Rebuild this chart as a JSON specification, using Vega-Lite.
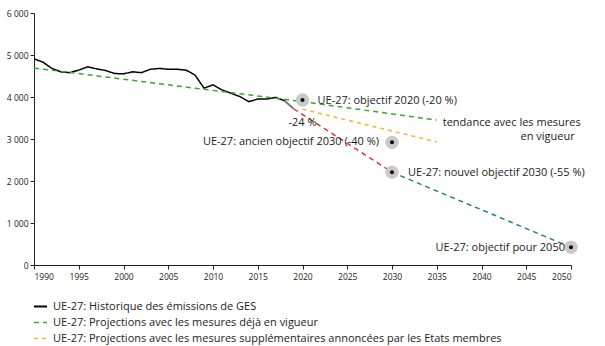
{
  "$schema": "https://vega.github.io/schema/vega-lite/v6.json",
  "width": 537,
  "height": 252,
  "autosize": "none",
  "padding": {"left": 34, "top": 13, "right": 34, "bottom": 81},
  "background": "white",
  "config": {
    "view": {"stroke": null},
    "font": "Open Sans",
    "axis": {"grid": false, "domainColor": "#222", "tickColor": "#222", "labelColor": "#222", "labelFont": "Open Sans", "labelFontSize": 8.5, "tickSize": 4, "title": null}
  },
  "datasets": {
    "lines": [
      {"series": "hist", "year": 1990, "value": 4910},
      {"series": "hist", "year": 1991, "value": 4830},
      {"series": "hist", "year": 1992, "value": 4680},
      {"series": "hist", "year": 1993, "value": 4600},
      {"series": "hist", "year": 1994, "value": 4580},
      {"series": "hist", "year": 1995, "value": 4640},
      {"series": "hist", "year": 1996, "value": 4720},
      {"series": "hist", "year": 1997, "value": 4670},
      {"series": "hist", "year": 1998, "value": 4630},
      {"series": "hist", "year": 1999, "value": 4560},
      {"series": "hist", "year": 2000, "value": 4550},
      {"series": "hist", "year": 2001, "value": 4600},
      {"series": "hist", "year": 2002, "value": 4580},
      {"series": "hist", "year": 2003, "value": 4660},
      {"series": "hist", "year": 2004, "value": 4680},
      {"series": "hist", "year": 2005, "value": 4660},
      {"series": "hist", "year": 2006, "value": 4660},
      {"series": "hist", "year": 2007, "value": 4640},
      {"series": "hist", "year": 2008, "value": 4520},
      {"series": "hist", "year": 2009, "value": 4210},
      {"series": "hist", "year": 2010, "value": 4290},
      {"series": "hist", "year": 2011, "value": 4170},
      {"series": "hist", "year": 2012, "value": 4090},
      {"series": "hist", "year": 2013, "value": 4010},
      {"series": "hist", "year": 2014, "value": 3890},
      {"series": "hist", "year": 2015, "value": 3950},
      {"series": "hist", "year": 2016, "value": 3950},
      {"series": "hist", "year": 2017, "value": 3990},
      {"series": "hist", "year": 2018, "value": 3910},
      {"series": "wem", "year": 1990, "value": 4690},
      {"series": "wem", "year": 2020, "value": 3890},
      {"series": "wem", "year": 2035, "value": 3450},
      {"series": "wam", "year": 2020, "value": 3710},
      {"series": "wam", "year": 2035, "value": 2930}
    ],
    "extra": [
      {"series": "est", "year": 2018, "value": 3910},
      {"series": "est", "year": 2019, "value": 3720},
      {"series": "red", "year": 2019, "value": 3720},
      {"series": "red", "year": 2030, "value": 2210},
      {"series": "teal", "year": 2030, "value": 2210},
      {"series": "teal", "year": 2050, "value": 420}
    ],
    "targets": [
      {"id": "t2020", "year": 2020, "value": 3930},
      {"id": "t2030old", "year": 2030, "value": 2920},
      {"id": "t2030new", "year": 2030, "value": 2210},
      {"id": "t2050", "year": 2050, "value": 420},
      {"id": "trend", "year": 2035, "value": 3450}
    ]
  },
  "encoding": {
    "x": {"field": "year", "type": "quantitative", "scale": {"domain": [1990, 2050], "nice": false, "zero": false},
      "axis": {"values": [1990, 1995, 2000, 2005, 2010, 2015, 2020, 2025, 2030, 2035, 2040, 2045, 2050], "format": "d", "labelPadding": 3}},
    "y": {"field": "value", "type": "quantitative", "scale": {"domain": [0, 6000], "nice": false},
      "axis": {"values": [0, 1000, 2000, 3000, 4000, 5000, 6000], "labelExpr": "replace(format(datum.value, ','), ',', ' ')", "labelPadding": 2}}
  },
  "layer": [
    {
      "data": {"name": "extra"},
      "transform": [{"filter": "datum.series == 'est'"}],
      "mark": {"type": "line", "color": "#777", "strokeWidth": 1.8}
    },
    {
      "data": {"name": "extra"},
      "transform": [{"filter": "datum.series == 'red'"}],
      "mark": {"type": "line", "color": "#e8262a", "strokeWidth": 1.4, "strokeDash": [5, 4]}
    },
    {
      "data": {"name": "extra"},
      "transform": [{"filter": "datum.series == 'teal'"}],
      "mark": {"type": "line", "color": "#1c7f7c", "strokeWidth": 1.4, "strokeDash": [5, 4]}
    },
    {
      "data": {"name": "lines"},
      "mark": {"type": "line", "strokeWidth": 1.5},
      "encoding": {
        "color": {"field": "series", "type": "nominal",
          "scale": {"domain": ["hist", "wem", "wam"], "range": ["#000000", "#35a835", "#f6b526"]},
          "legend": {
            "orient": "none", "legendX": -1, "legendY": 286, "direction": "vertical",
            "title": null, "symbolType": "stroke", "symbolSize": 169, "symbolStrokeWidth": 1.8,
            "labelFont": "Open Sans", "labelFontSize": 11, "labelColor": "#222", "labelOffset": 5, "rowPadding": 3, "padding": 0,
            "labelExpr": "datum.label == 'hist' ? 'UE-27: Historique des émissions de GES' : datum.label == 'wem' ? 'UE-27: Projections avec les mesures déjà en vigueur' : 'UE-27: Projections avec les mesures supplémentaires annoncées par les Etats membres'",
            "labelLimit": 600
          }},
        "strokeDash": {"field": "series", "type": "nominal",
          "scale": {"domain": ["hist", "wem", "wam"], "range": [[1, 0], [5, 4], [4, 4]]}, "legend": null},
        "strokeWidth": {"field": "series", "type": "nominal",
          "scale": {"domain": ["hist", "wem", "wam"], "range": [2, 1.4, 1.4]}, "legend": null}
      }
    },
    {
      "data": {"name": "targets"},
      "transform": [{"filter": "datum.id != 'trend'"}],
      "mark": {"type": "point", "filled": true, "color": "#c9c9c9", "opacity": 1, "size": 180}
    },
    {
      "data": {"name": "targets"},
      "transform": [{"filter": "datum.id != 'trend'"}],
      "mark": {"type": "point", "filled": true, "color": "#000", "opacity": 1, "size": 16}
    },
    {
      "data": {"name": "targets"},
      "transform": [{"filter": "datum.id == 't2020'"}],
      "mark": {"type": "text", "align": "left", "baseline": "middle", "dx": 15, "dy": 1, "fontSize": 11, "color": "#222"},
      "encoding": {"text": {"value": "UE-27: objectif 2020 (-20 %)"}}
    },
    {
      "data": {"name": "targets"},
      "transform": [{"filter": "datum.id == 't2020'"}],
      "mark": {"type": "text", "align": "center", "baseline": "middle", "dx": 0, "dy": 23, "fontSize": 11, "color": "#222"},
      "encoding": {"text": {"value": "-24 %"}}
    },
    {
      "data": {"name": "targets"},
      "transform": [{"filter": "datum.id == 't2030old'"}],
      "mark": {"type": "text", "align": "right", "baseline": "middle", "dx": -13, "dy": 0, "fontSize": 11, "color": "#222"},
      "encoding": {"text": {"value": "UE-27: ancien objectif 2030 (-40 %)"}}
    },
    {
      "data": {"name": "targets"},
      "transform": [{"filter": "datum.id == 't2030new'"}],
      "mark": {"type": "text", "align": "left", "baseline": "middle", "dx": 16, "dy": 1, "fontSize": 11, "color": "#222"},
      "encoding": {"text": {"value": "UE-27: nouvel objectif 2030 (-55 %)"}}
    },
    {
      "data": {"name": "targets"},
      "transform": [{"filter": "datum.id == 't2050'"}],
      "mark": {"type": "text", "align": "right", "baseline": "middle", "dx": -6, "dy": 1, "fontSize": 11, "color": "#222"},
      "encoding": {"text": {"value": "UE-27:  objectif pour 2050"}}
    },
    {
      "data": {"name": "targets"},
      "transform": [{"filter": "datum.id == 'trend'"}],
      "mark": {"type": "text", "align": "left", "baseline": "middle", "dx": 6, "dy": 3, "fontSize": 11, "color": "#222"},
      "encoding": {"text": {"value": "tendance avec les mesures"}}
    },
    {
      "data": {"name": "targets"},
      "transform": [{"filter": "datum.id == 'trend'"}],
      "mark": {"type": "text", "align": "right", "baseline": "middle", "dx": 138, "dy": 17, "fontSize": 11, "color": "#222"},
      "encoding": {"text": {"value": "en vigueur"}}
    }
  ]
}
